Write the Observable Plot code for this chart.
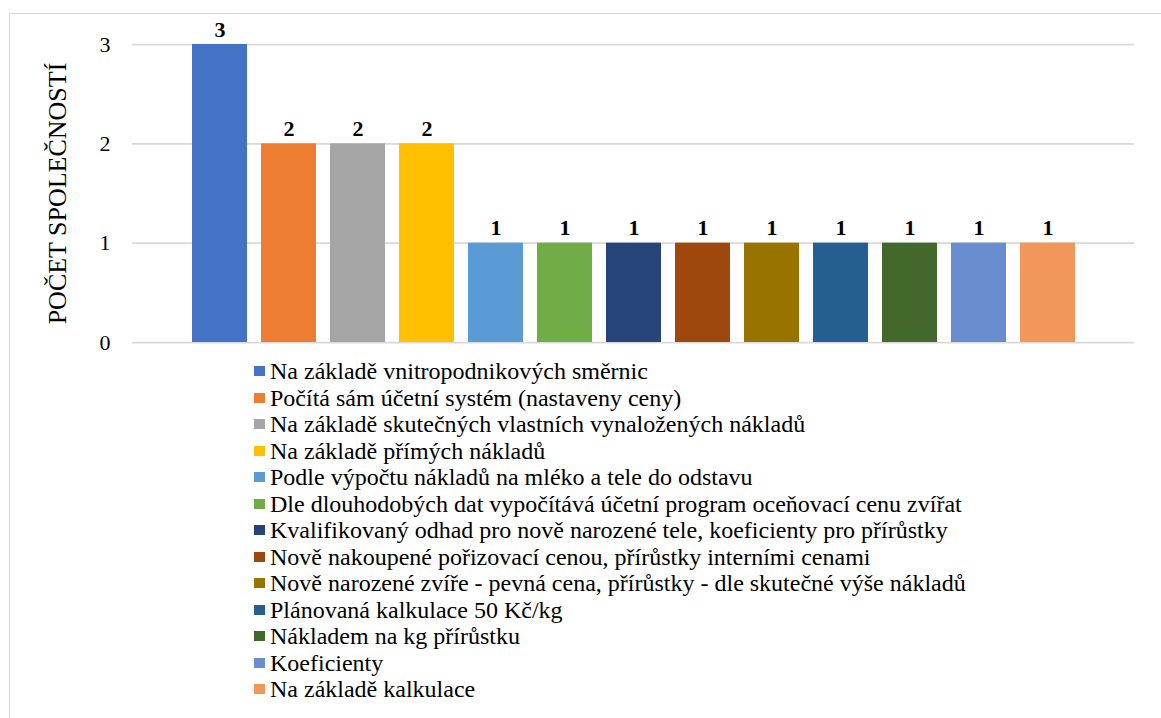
<!DOCTYPE html>
<html>
<head>
<meta charset="utf-8">
<script src="https://cdn.jsdelivr.net/npm/d3@7"></script>
<script src="https://cdn.jsdelivr.net/npm/@observablehq/plot@0.6"></script>
<style>
  html, body { margin: 0; padding: 0; background: #fff; }
  body { width: 1161px; height: 718px; overflow: hidden; position: relative; font-family: "Liberation Serif", serif; }
  #frame { position: absolute; left: 9px; top: 13px; width: 1300px; height: 900px; border: 1.5px solid #d9d9d9; box-sizing: border-box; }
  #chart { position: absolute; left: 0; top: 0; }
  #legend { position: absolute; left: 254px; top: 358px; font-size: 24px; line-height: 26.5px; color: #000; }
  .item { display: flex; align-items: center; white-space: nowrap; }
  .sw { width: 11px; height: 10px; margin-right: 5px; flex: none; }
</style>
</head>
<body>
<div id="frame"></div>
<div id="chart"></div>
<div id="legend"></div>
<script>
const categories = [
  "Na základě vnitropodnikových směrnic",
  "Počítá sám účetní systém (nastaveny ceny)",
  "Na základě skutečných vlastních vynaložených nákladů",
  "Na základě přímých nákladů",
  "Podle výpočtu nákladů na mléko a tele do odstavu",
  "Dle dlouhodobých dat vypočítává účetní program oceňovací cenu zvířat",
  "Kvalifikovaný odhad pro nově narozené tele, koeficienty pro přírůstky",
  "Nově nakoupené pořizovací cenou, přírůstky interními cenami",
  "Nově narozené zvíře - pevná cena, přírůstky - dle skutečné výše nákladů",
  "Plánovaná kalkulace 50 Kč/kg",
  "Nákladem na kg přírůstku",
  "Koeficienty",
  "Na základě kalkulace"
];
const values = [3, 2, 2, 2, 1, 1, 1, 1, 1, 1, 1, 1, 1];
const colors = ["#4472C4", "#ED7D31", "#A5A5A5", "#FFC000", "#5B9BD5", "#70AD47", "#264478", "#9E480E", "#997300", "#255E91", "#43682B", "#698ED0", "#F1975A"];
const yTicks = [0, 1, 2, 3];
const yTitle = "POČET SPOLEČNOSTÍ";

const data = categories.map((c, i) => ({category: c, value: values[i]}));

const chart = Plot.plot({
  width: 1161,
  height: 352,
  marginLeft: 132,
  marginRight: 27,
  marginTop: 44,
  marginBottom: 10,
  style: {fontFamily: `"Liberation Serif", serif`, fontSize: "22px", color: "#000", background: "transparent", overflow: "visible"},
  x: {domain: categories, paddingInner: 0.2, paddingOuter: 0, insetLeft: 59, insetRight: 58, axis: null},
  y: {domain: [0, 3], ticks: yTicks, tickSize: 0, tickPadding: 22, label: null, tickFormat: d => String(d)},
  color: {domain: categories, range: colors},
  marks: [
    Plot.ruleY(yTicks, {stroke: "#d9d9d9", strokeWidth: 1.75}),
    Plot.barY(data, {x: "category", y: "value", fill: "category"}),
    Plot.text(data, {x: "category", y: "value", text: d => String(d.value), lineAnchor: "bottom", dy: -8, fontWeight: "bold", fontSize: 22, fill: "#000"}),
    Plot.text([yTitle], {frameAnchor: "left", textAnchor: "middle", dx: -75, rotate: -90, fontSize: 26, fill: "#000"})
  ]
});
document.getElementById("chart").appendChild(chart);

const legend = d3.select("#legend");
categories.forEach((c, i) => {
  const row = legend.append("div").attr("class", "item");
  row.append("span").attr("class", "sw").style("background", colors[i]);
  row.append("span").text(c);
});
</script>
</body>
</html>
